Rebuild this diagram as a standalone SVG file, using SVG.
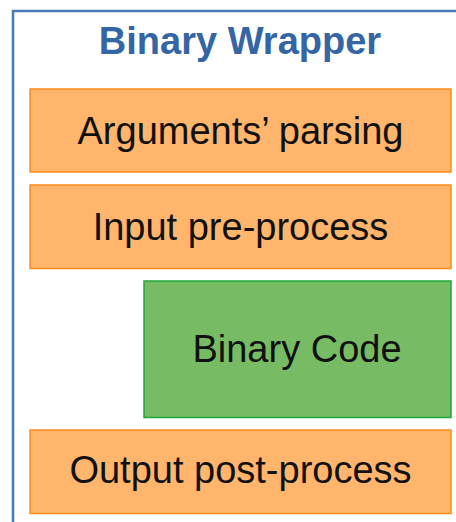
<svg xmlns="http://www.w3.org/2000/svg" width="456" height="522" viewBox="0 0 456 522">
  <style>
    .frame { fill: #ffffff; stroke: #4a78b8; stroke-width: 2.5; }
    .title { font-family: "Liberation Sans", Arial, sans-serif; font-weight: bold; font-size: 38px; fill: #3465a4; text-anchor: middle; }
    .step { fill: #ffb66c; stroke: #ff8c1a; stroke-width: 1.5; }
    .core { fill: #77bc65; stroke: #1fa83a; stroke-width: 1.5; }
    .label { font-family: "Liberation Sans", Arial, sans-serif; font-size: 38px; fill: #111111; text-anchor: middle; }
  </style>
  <rect width="456" height="522" fill="#ffffff"/>

  <!-- wrapper container -->
  <g id="wrapper">
    <rect class="frame" x="13" y="11" width="470" height="540"/>
    <text class="title" x="240" y="54">Binary Wrapper</text>
  </g>

  <g id="args">
    <rect class="step" x="30" y="89" width="421" height="83"/>
    <text class="label" x="240.5" y="144">Arguments’ parsing</text>
  </g>

  <g id="pre">
    <rect class="step" x="30" y="185" width="421" height="83.5"/>
    <text class="label" x="240.5" y="240">Input pre-process</text>
  </g>

  <g id="core">
    <rect class="core" x="144" y="281" width="307" height="136.5"/>
    <text class="label" x="297" y="362">Binary Code</text>
  </g>

  <g id="post">
    <rect class="step" x="30" y="430" width="421" height="83.5"/>
    <text class="label" x="240.5" y="483">Output post-process</text>
  </g>

  <g id="connectors"></g>
</svg>
